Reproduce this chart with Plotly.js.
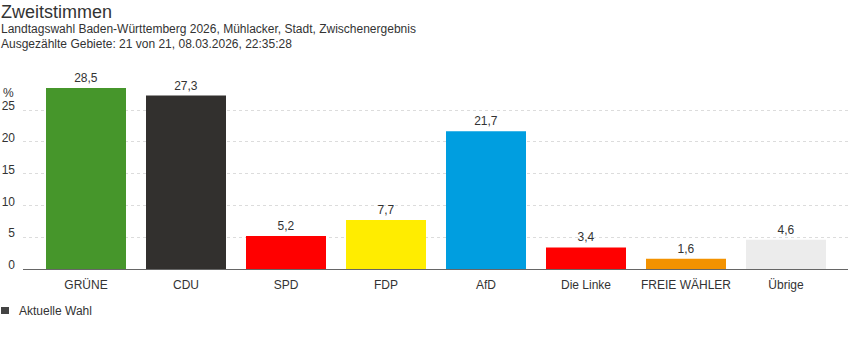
<!DOCTYPE html>
<html><head><meta charset="utf-8">
<script src="https://cdn.plot.ly/plotly-3.0.1.min.js"></script>
<style>html,body{margin:0;padding:0;background:#fff;}#chart{width:848px;height:352px;}</style>
</head><body><div id="chart"></div>
<script>
const parties = ["GRÜNE","CDU","SPD","FDP","AfD","Die Linke","FREIE WÄHLER","Übrige"];
const shares = [28.5,27.3,5.2,7.7,21.7,3.4,1.6,4.6];
const colors = ["#46962b","#32302e","#ff0000","#ffed00","#009ee0","#ff0000","#f39200","#ececec"];
const yTicks = [0,5,10,15,20,25];
const legendLabel = "Aktuelle Wahl";
const titleText = "Zweitstimmen";
const subtitle1 = "Landtagswahl Baden-Württemberg 2026, Mühlacker, Stadt, Zwischenergebnis";
const subtitle2 = "Ausgezählte Gebiete: 21 von 21, 08.03.2026, 22:35:28";

const FONT = "Liberation Sans, Arial, sans-serif";
const L = 23, T = 88, B = 83, H = 352;
const plotH = H - T - B;

const trace = {
  type: "bar", x: parties, y: shares,
  marker: {color: colors, line: {width: 0}},
  width: 0.8,
  texttemplate: "%{y:.1f}", textposition: "outside",
  textfont: {family: FONT, size: 12, color: "#333"},
  cliponaxis: false, showlegend: false, hoverinfo: "none"
};

const layout = {
  width: 848, height: 352,
  margin: {l: L, r: 0, t: T, b: B, pad: 0},
  paper_bgcolor: "#fff", plot_bgcolor: "#fff",
  separators: ",.",
  font: {family: FONT, size: 12, color: "#333"},
  bargap: 0.2,
  xaxis: {
    range: [-0.63, 7.62], showgrid: false, zeroline: false,
    showline: true, linecolor: "#666", linewidth: 1,
    ticks: "", ticklabelstandoff: 5,
    tickfont: {family: FONT, size: 12, color: "#333"}, fixedrange: true
  },
  yaxis: {
    range: [0, 28.5], tickvals: yTicks, ticktext: yTicks.map(String),
    showgrid: true, gridcolor: "#dcdcdc", griddash: "dot", gridwidth: 1,
    zeroline: false, showline: false, ticks: "",
    ticklabelstandoff: 7, ticklabelshift: -4,
    tickfont: {family: FONT, size: 12, color: "#333"}, fixedrange: true
  },
  annotations: [
    {xref: "paper", yref: "paper", x: 0, y: 1, xanchor: "left", yanchor: "middle",
     xshift: -L - 1, yshift: T - 12, text: titleText, showarrow: false,
     font: {family: FONT, size: 18, color: "#333"}},
    {xref: "paper", yref: "paper", x: 0, y: 1, xanchor: "left", yanchor: "middle",
     xshift: -L - 1, yshift: T - 29, text: subtitle1, showarrow: false,
     font: {family: FONT, size: 12, color: "#333"}},
    {xref: "paper", yref: "paper", x: 0, y: 1, xanchor: "left", yanchor: "middle",
     xshift: -L - 1, yshift: T - 44, text: subtitle2, showarrow: false,
     font: {family: FONT, size: 12, color: "#333"}},
    {xref: "paper", yref: "paper", x: 0, y: 1, xanchor: "left", yanchor: "middle",
     xshift: -L + 1, yshift: T - 93, text: "%", showarrow: false,
     font: {family: FONT, size: 12, color: "#333"}},
    {xref: "paper", yref: "paper", x: 0, y: 0, xanchor: "left", yanchor: "middle",
     xshift: -L + 17, yshift: -(311 - (H - B)), text: legendLabel, showarrow: false,
     font: {family: FONT, size: 12, color: "#333"}}
  ],
  shapes: [
    {type: "rect", xref: "paper", yref: "paper", layer: "above",
     x0: -(L - 1) / (848 - L), x1: -(L - 9) / (848 - L),
     y0: -(314 - (H - B)) / plotH, y1: -(307 - (H - B)) / plotH,
     fillcolor: "#444", line: {width: 0}}
  ]
};

Plotly.newPlot("chart", [trace], layout, {displayModeBar: false, staticPlot: true});
</script></body></html>
